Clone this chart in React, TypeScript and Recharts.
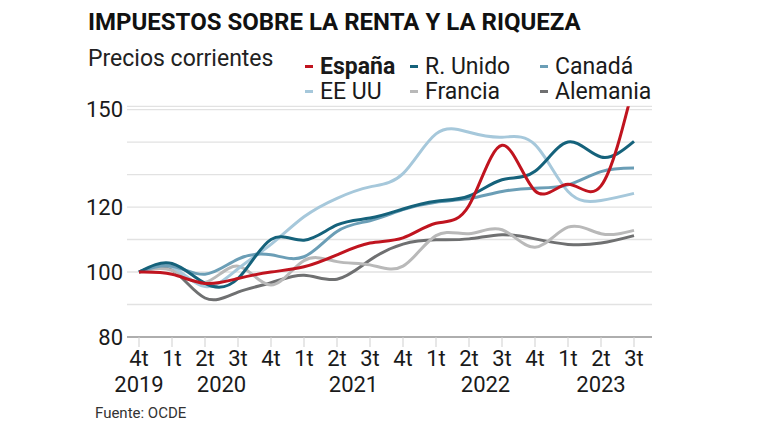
import React from 'react';
import { LineChart, Line, XAxis, YAxis, CartesianGrid } from 'recharts';

const quarterLabels = ['4t', '1t', '2t', '3t', '4t', '1t', '2t', '3t', '4t', '1t', '2t', '3t', '4t', '1t', '2t', '3t'];
const quarterYears = [2019, 2020, 2020, 2020, 2020, 2021, 2021, 2021, 2021, 2022, 2022, 2022, 2022, 2023, 2023, 2023];

const espana = [100, 99.3, 96.5, 98, 100, 101.6, 105.3, 108.9, 110.5, 115, 120.5, 139, 125, 127, 126.5, 158];
const reinoUnido = [100, 102.6, 96.5, 98, 110, 109.8, 114.5, 116.6, 119.4, 121.8, 123.4, 128.4, 131, 140, 135.4, 140.2];
const canada = [100, 101.8, 99.3, 104, 105.3, 104.7, 112.5, 115.8, 119.2, 121.5, 122.6, 124.8, 125.8, 126.8, 130.9, 132];
const eeuu = [100, 101.5, 95.5, 101, 108.5, 117, 122.7, 126.2, 130.3, 142.5, 143, 141.5, 139.2, 124.8, 122, 124.2];
const francia = [100, 100.5, 96.8, 101.8, 96, 103.5, 103.2, 102.2, 101.8, 111.2, 111.8, 113, 107.6, 113.8, 111.8, 112.8];
const alemania = [100, 100.6, 92, 93.8, 96.7, 99, 97.8, 103.7, 108.6, 109.9, 110.2, 111.5, 110.2, 108.5, 108.9, 111.2];

const gridTicks = [80, 90, 100, 110, 120, 130, 140, 150];
const labelTicks = [80, 100, 120, 150];

const periods = quarterLabels.map((q, i) => `${q} ${quarterYears[i]}`);

const data = periods.map((p, i) => ({
  period: p,
  espana: espana[i],
  reinoUnido: reinoUnido[i],
  canada: canada[i],
  eeuu: eeuu[i],
  francia: francia[i],
  alemania: alemania[i],
}));

const series = [
  { key: 'espana', name: 'España', color: '#c0141f', bold: true, width: 3 },
  { key: 'reinoUnido', name: 'R. Unido', color: '#15627b', bold: false, width: 3 },
  { key: 'canada', name: 'Canadá', color: '#6b9eb6', bold: false, width: 3 },
  { key: 'eeuu', name: 'EE UU', color: '#a6c8db', bold: false, width: 3 },
  { key: 'francia', name: 'Francia', color: '#b9b9b9', bold: false, width: 3 },
  { key: 'alemania', name: 'Alemania', color: '#6f7071', bold: false, width: 3 },
];

const FONT = 'Roboto, "Noto Sans", sans-serif';
const STEP = 33;

const XTick = (props: any) => {
  const { x, y, payload } = props;
  const i = periods.indexOf(payload.value);
  const year = quarterYears[i];
  const idxs = quarterYears.map((yy, k) => (yy === year ? k : -1)).filter((k) => k >= 0);
  const first = idxs[0] === i;
  const mean = idxs.reduce((a, b) => a + b, 0) / idxs.length;
  return (
    <g>
      <text x={x} y={y + 19} textAnchor="middle" fontSize={22} fill="#1a1a1a" fontFamily={FONT}>
        {quarterLabels[i]}
      </text>
      {first && (
        <text x={x + (mean - i) * STEP} y={y + 45} textAnchor="middle" fontSize={22} fill="#1a1a1a" fontFamily={FONT}>
          {String(year)}
        </text>
      )}
    </g>
  );
};

export default function App() {
  return (
    <div style={{ position: 'absolute', left: 0, top: 0, width: 768, height: 432, background: '#fff', fontFamily: FONT }}>
      <div style={{ position: 'absolute', left: 88, top: 10, fontSize: 24, fontWeight: 700, lineHeight: 1, color: '#111', whiteSpace: 'nowrap' }}>
        IMPUESTOS SOBRE LA RENTA Y LA RIQUEZA
      </div>
      <div style={{ position: 'absolute', left: 88, top: 46.5, fontSize: 23, lineHeight: 1, color: '#222', whiteSpace: 'nowrap' }}>
        Precios corrientes
      </div>
      {series.map((s, i) => {
        const col = i % 3;
        const row = Math.floor(i / 3);
        const lefts = [305, 410, 540];
        return (
          <div
            key={s.key}
            style={{ position: 'absolute', left: lefts[col], top: 54 + row * 25, display: 'flex', alignItems: 'center', height: 24, whiteSpace: 'nowrap' }}
          >
            <span style={{ display: 'inline-block', width: 8, height: 3, background: s.color, marginRight: 7 }} />
            <span style={{ fontSize: 23, lineHeight: 1, fontWeight: s.bold ? 700 : 400, color: '#1a1a1a' }}>{s.name}</span>
          </div>
        );
      })}
      <div style={{ position: 'absolute', left: 95, top: 406, fontSize: 15, lineHeight: 1, color: '#333', whiteSpace: 'nowrap' }}>
        Fuente: OCDE
      </div>
      <div style={{ position: 'absolute', left: 0, top: 0 }}>
        <LineChart width={768} height={432} data={data} margin={{ top: 106.3, right: 116, bottom: 35, left: 82 }}>
          <CartesianGrid vertical={false} stroke="#e2e2e2" strokeWidth={1.3} />
          <XAxis
            dataKey="period"
            interval={0}
            padding={{ left: 12, right: 18 }}
            axisLine={{ stroke: '#9a9a9a', strokeWidth: 1.3 }}
            tickLine={{ stroke: '#cfcfcf', strokeWidth: 1 }}
            tickSize={10}
            tickMargin={0}
            height={60}
            tick={<XTick />}
          />
          <YAxis
            domain={[80, 151]}
            allowDataOverflow
            ticks={gridTicks}
            interval={0}
            axisLine={false}
            tickLine={false}
            tickSize={0}
            tickMargin={4}
            width={45}
            tickFormatter={(v: number) => (labelTicks.includes(v) ? String(v) : '')}
            tick={{ fontSize: 22, fill: '#1a1a1a', fontFamily: FONT }}
          />
          {series
            .slice()
            .reverse()
            .map((s) => (
              <Line
                key={s.key}
                type="natural"
                dataKey={s.key}
                name={s.name}
                stroke={s.color}
                strokeWidth={s.width}
                dot={false}
                activeDot={false}
                isAnimationActive={false}
              />
            ))}
        </LineChart>
      </div>
    </div>
  );
}
